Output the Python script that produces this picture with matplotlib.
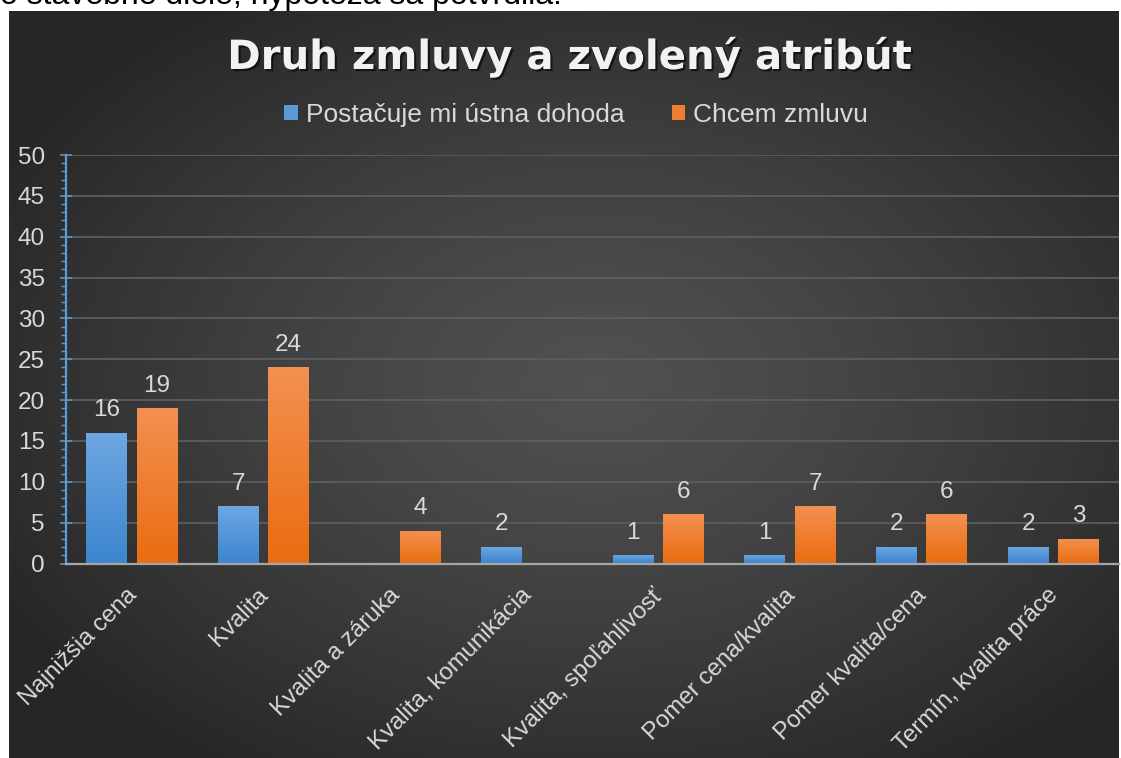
import numpy as np
import matplotlib.pyplot as plt
from matplotlib.patches import Patch
from matplotlib.ticker import MultipleLocator
from matplotlib.transforms import ScaledTranslation
from matplotlib import patheffects as pe

categories = ['Najnižšia cena', 'Kvalita', 'Kvalita a záruka', 'Kvalita, komunikácia',
              'Kvalita, spoľahlivosť', 'Pomer cena/kvalita', 'Pomer kvalita/cena',
              'Termín, kvalita práce']
ustna = [16, 7, 0, 2, 1, 1, 2, 2]
zmluva = [19, 24, 4, 0, 6, 7, 6, 3]
series_names = ['Postačuje mi ústna dohoda', 'Chcem zmluvu']

W, H = 1121, 758
txt = '#d9d9d9'
blue_top, blue_bot = np.array([0x6e, 0xa7, 0xe2]) / 255, np.array([0x3c, 0x86, 0xce]) / 255
orng_top, orng_bot = np.array([0xf3, 0x90, 0x52]) / 255, np.array([0xea, 0x6d, 0x10]) / 255

plt.rcParams['font.family'] = ['Liberation Sans', 'DejaVu Sans']

fig = plt.figure(figsize=(W / 100, H / 100), dpi=100, facecolor='white')

# dark panel with radial gradient
bg = fig.add_axes([9 / W, 0, (1119 - 9) / W, (H - 10.5) / H], zorder=0)
yy, xx = np.mgrid[0:1:300j, 0:1:400j]
r = np.sqrt(((xx - 0.53) / 0.62) ** 2 + ((yy - 0.5) / 0.62) ** 2)
shade = 0.315 - 0.165 * np.clip(r, 0, 1) ** 1.3
bg.imshow(np.dstack([shade] * 3), aspect='auto', extent=[0, 1, 0, 1])
bg.axis('off')

# cropped text line of the surrounding document
fig.text(0, 1 - 4 / H, 'o stavebné diele, hypotéza sa potvrdila.', fontsize=23,
         color='black', ha='left', va='baseline')

ax = fig.add_axes([66 / W, 1 - 563.5 / H, (1119 - 66) / W, (563.5 - 155) / H], zorder=2)
ax.set_facecolor('none')

x = np.arange(len(categories))
bw = 0.31
off = 0.191
b1 = ax.bar(x - off, ustna, bw, zorder=3)
b2 = ax.bar(x + off, zmluva, bw, zorder=3)

g = np.linspace(0, 1, 64).reshape(-1, 1, 1)
for bars, top, bot in [(b1, blue_top, blue_bot), (b2, orng_top, orng_bot)]:
    img = top + (bot - top) * g
    for rect in bars:
        rect.set_facecolor('none')
        rect.set_edgecolor('none')
        h = rect.get_height()
        if h <= 0:
            continue
        im = ax.imshow(img, extent=[rect.get_x(), rect.get_x() + rect.get_width(), 0, h],
                       aspect='auto', origin='upper', zorder=3)
        im.set_clip_path(rect)
        ax.annotate(str(int(h)), (rect.get_x() + rect.get_width() / 2, h),
                    xytext=(0, 12), textcoords='offset points', ha='center',
                    va='baseline', fontsize=17.5, color=txt, zorder=4)

ax.set_xlim(-0.5, len(categories) - 0.5)
ax.set_ylim(0, 50)
ax.yaxis.set_major_locator(MultipleLocator(5))
ax.yaxis.set_minor_locator(MultipleLocator(1))
ax.yaxis.grid(True, which='major', color='#5d5d5d', lw=1.3, zorder=1)
ax.set_axisbelow(True)

for s in ['top', 'right']:
    ax.spines[s].set_visible(False)
ax.spines['left'].set_color('#5b9bd5')
ax.spines['left'].set_linewidth(1.6)
ax.spines['bottom'].set_color('#a6a6a6')
ax.spines['bottom'].set_linewidth(1.6)
ax.spines['bottom'].set_zorder(5)

ax.tick_params(axis='y', which='major', direction='inout', length=8.5, width=1.1,
               color='#5b9bd5', labelsize=17.5, labelcolor=txt, pad=11)
ax.tick_params(axis='y', which='minor', direction='out', length=3.6, width=1.0,
               color='#5b9bd5')
ax.set_xticks(x)
ax.set_xticklabels(categories, rotation=45, ha='right', va='top', rotation_mode='anchor')
ax.tick_params(axis='x', length=0, labelsize=17.3, labelcolor=txt, pad=15)
shift = ScaledTranslation(-6 / 100, 0, fig.dpi_scale_trans)
for lab in ax.get_xticklabels():
    lab.set_transform(lab.get_transform() + shift)

fig.text(569 / W, 1 - 69 / H, 'Druh zmluvy a zvolený atribút', ha='center', va='baseline',
         fontsize=29, weight='bold', color='#f2f2f2', family='DejaVu Sans',
         path_effects=[pe.withSimplePatchShadow(offset=(1.5, -1.5), shadow_rgbFace='black',
                                                alpha=0.6)])

handles = [Patch(facecolor='#5b9bd5'), Patch(facecolor='#ed7d31')]
fig.legend(handles, series_names, loc='center', bbox_to_anchor=(576 / W, 1 - 115 / H),
           ncol=2, frameon=False, fontsize=19, labelcolor=txt, handlelength=0.5,
           handleheight=0.5, handletextpad=0.3, columnspacing=1.8)

fig.savefig('out.png', dpi=100, facecolor='white')
